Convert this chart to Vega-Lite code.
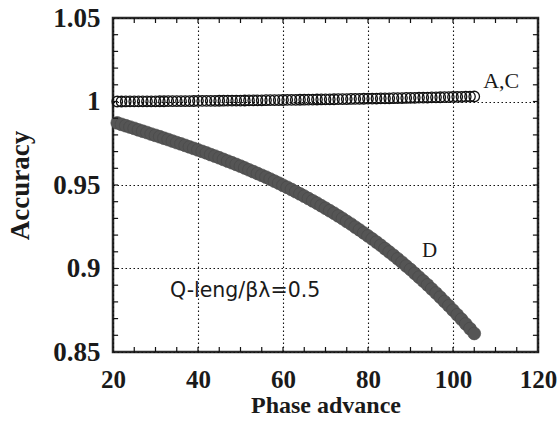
{
  "$schema": "https://vega.github.io/schema/vega-lite/v6.json",
  "width": 425,
  "height": 334,
  "autosize": {"type": "none"},
  "padding": {"left": 113, "top": 18, "right": 19, "bottom": 85},
  "background": "white",
  "config": {
    "view": {"stroke": "#2a2a2a", "strokeWidth": 2.5},
    "axis": {"labelColor": "#1a1a1a", "titleColor": "#1a1a1a"}
  },
  "datasets": {
    "xt": [{"v":25},{"v":30},{"v":35},{"v":40},{"v":45},{"v":50},{"v":55},{"v":60},{"v":65},{"v":70},{"v":75},{"v":80},{"v":85},{"v":90},{"v":95},{"v":100},{"v":105},{"v":110},{"v":115}],
    "yt": [{"v":0.86},{"v":0.87},{"v":0.88},{"v":0.89},{"v":0.9},{"v":0.91},{"v":0.92},{"v":0.93},{"v":0.94},{"v":0.95},{"v":0.96},{"v":0.97},{"v":0.98},{"v":0.99},{"v":1},{"v":1.01},{"v":1.02},{"v":1.03},{"v":1.04}],
    "ac": [
      {"x":21,"y":1.00000},{"x":22,"y":1.00001},{"x":23,"y":1.00002},{"x":24,"y":1.00004},{"x":25,"y":1.00005},
      {"x":26,"y":1.00007},{"x":27,"y":1.00008},{"x":28,"y":1.00010},{"x":29,"y":1.00011},{"x":30,"y":1.00013},
      {"x":31,"y":1.00015},{"x":32,"y":1.00016},{"x":33,"y":1.00018},{"x":34,"y":1.00020},{"x":35,"y":1.00022},
      {"x":36,"y":1.00024},{"x":37,"y":1.00026},{"x":38,"y":1.00028},{"x":39,"y":1.00031},{"x":40,"y":1.00033},
      {"x":41,"y":1.00035},{"x":42,"y":1.00037},{"x":43,"y":1.00040},{"x":44,"y":1.00042},{"x":45,"y":1.00045},
      {"x":46,"y":1.00047},{"x":47,"y":1.00050},{"x":48,"y":1.00053},{"x":49,"y":1.00056},{"x":50,"y":1.00058},
      {"x":51,"y":1.00061},{"x":52,"y":1.00064},{"x":53,"y":1.00067},{"x":54,"y":1.00070},{"x":55,"y":1.00073},
      {"x":56,"y":1.00077},{"x":57,"y":1.00080},{"x":58,"y":1.00083},{"x":59,"y":1.00086},{"x":60,"y":1.00090},
      {"x":61,"y":1.00093},{"x":62,"y":1.00097},{"x":63,"y":1.00100},{"x":64,"y":1.00104},{"x":65,"y":1.00107},
      {"x":66,"y":1.00111},{"x":67,"y":1.00115},{"x":68,"y":1.00119},{"x":69,"y":1.00122},{"x":70,"y":1.00126},
      {"x":71,"y":1.00130},{"x":72,"y":1.00135},{"x":73,"y":1.00139},{"x":74,"y":1.00143},{"x":75,"y":1.00147},
      {"x":76,"y":1.00152},{"x":77,"y":1.00156},{"x":78,"y":1.00160},{"x":79,"y":1.00164},{"x":80,"y":1.00169},
      {"x":81,"y":1.00173},{"x":82,"y":1.00178},{"x":83,"y":1.00183},{"x":84,"y":1.00187},{"x":85,"y":1.00192},
      {"x":86,"y":1.00197},{"x":87,"y":1.00202},{"x":88,"y":1.00207},{"x":89,"y":1.00212},{"x":90,"y":1.00217},
      {"x":91,"y":1.00222},{"x":92,"y":1.00228},{"x":93,"y":1.00233},{"x":94,"y":1.00238},{"x":95,"y":1.00243},
      {"x":96,"y":1.00249},{"x":97,"y":1.00254},{"x":98,"y":1.00260},{"x":99,"y":1.00266},{"x":100,"y":1.00271},
      {"x":101,"y":1.00277},{"x":102,"y":1.00283},{"x":103,"y":1.00289},{"x":104,"y":1.00294},{"x":105,"y":1.00300}
    ],
    "d": [
      {"x":21,"y":0.9872},{"x":22,"y":0.9863},{"x":23,"y":0.9855},{"x":24,"y":0.9847},{"x":25,"y":0.9839},
      {"x":26,"y":0.9830},{"x":27,"y":0.9822},{"x":28,"y":0.9814},{"x":29,"y":0.9805},{"x":30,"y":0.9797},
      {"x":31,"y":0.9789},{"x":32,"y":0.9780},{"x":33,"y":0.9772},{"x":34,"y":0.9763},{"x":35,"y":0.9754},
      {"x":36,"y":0.9746},{"x":37,"y":0.9737},{"x":38,"y":0.9728},{"x":39,"y":0.9719},{"x":40,"y":0.9710},
      {"x":41,"y":0.9701},{"x":42,"y":0.9692},{"x":43,"y":0.9682},{"x":44,"y":0.9673},{"x":45,"y":0.9663},
      {"x":46,"y":0.9653},{"x":47,"y":0.9643},{"x":48,"y":0.9633},{"x":49,"y":0.9623},{"x":50,"y":0.9613},
      {"x":51,"y":0.9602},{"x":52,"y":0.9591},{"x":53,"y":0.9580},{"x":54,"y":0.9569},{"x":55,"y":0.9558},
      {"x":56,"y":0.9547},{"x":57,"y":0.9535},{"x":58,"y":0.9523},{"x":59,"y":0.9511},{"x":60,"y":0.9498},
      {"x":61,"y":0.9486},{"x":62,"y":0.9473},{"x":63,"y":0.9460},{"x":64,"y":0.9447},{"x":65,"y":0.9433},
      {"x":66,"y":0.9419},{"x":67,"y":0.9405},{"x":68,"y":0.9391},{"x":69,"y":0.9376},{"x":70,"y":0.9361},
      {"x":71,"y":0.9346},{"x":72,"y":0.9331},{"x":73,"y":0.9315},{"x":74,"y":0.9299},{"x":75,"y":0.9282},
      {"x":76,"y":0.9266},{"x":77,"y":0.9248},{"x":78,"y":0.9231},{"x":79,"y":0.9213},{"x":80,"y":0.9195},
      {"x":81,"y":0.9177},{"x":82,"y":0.9158},{"x":83,"y":0.9139},{"x":84,"y":0.9119},{"x":85,"y":0.9099},
      {"x":86,"y":0.9079},{"x":87,"y":0.9058},{"x":88,"y":0.9037},{"x":89,"y":0.9015},{"x":90,"y":0.8994},
      {"x":91,"y":0.8971},{"x":92,"y":0.8948},{"x":93,"y":0.8925},{"x":94,"y":0.8902},{"x":95,"y":0.8877},
      {"x":96,"y":0.8853},{"x":97,"y":0.8828},{"x":98,"y":0.8802},{"x":99,"y":0.8777},{"x":100,"y":0.8750},
      {"x":101,"y":0.8723},{"x":102,"y":0.8696},{"x":103,"y":0.8668},{"x":104,"y":0.8640},{"x":105,"y":0.8611}
    ]
  },
  "layer": [
    {
      "data": {"name": "ac"},
      "mark": {"type": "point", "shape": "circle", "filled": false, "stroke": "#111111", "strokeWidth": 1.3, "size": 110, "opacity": 1},
      "encoding": {
        "x": {"field": "x", "type": "quantitative", "scale": {"domain": [20, 120], "nice": false, "zero": false},
          "axis": {"orient": "bottom", "values": [20, 40, 60, 80, 100, 120],
            "grid": true, "gridDash": [1.5, 2.5], "gridColor": "#111111", "gridWidth": 1.1, "gridOpacity": 1,
            "ticks": false, "domain": false, "labelFont": "Liberation Serif", "labelFontWeight": "bold", "labelFontSize": 25,
            "labelBaseline": "alphabetic", "labelPadding": 35, "labelFlush": false, "labelOverlap": false,
            "title": "Phase advance", "titleFont": "Liberation Serif", "titleFontWeight": "bold", "titleFontSize": 24, "titleBaseline": "alphabetic", "titleY": 60}},
        "y": {"field": "y", "type": "quantitative", "scale": {"domain": [0.85, 1.05], "nice": false, "zero": false},
          "axis": {"orient": "left", "values": [0.85, 0.9, 0.95, 1, 1.05], "format": "~g",
            "grid": true, "gridDash": [1.5, 2.5], "gridColor": "#111111", "gridWidth": 1.1, "gridOpacity": 1,
            "ticks": false, "domain": false, "labelFont": "Liberation Serif", "labelFontWeight": "bold", "labelFontSize": 27,
            "labelPadding": 13, "labelFlush": false, "labelOverlap": false,
            "title": "Accuracy", "titleFont": "Liberation Serif", "titleFontWeight": "bold", "titleFontSize": 27, "titleBaseline": "alphabetic", "titleAngle": -90, "titleAlign": "center", "titleX": -85, "titleY": 167}}
      }
    },
    {
      "data": {"name": "d"},
      "mark": {"type": "point", "shape": "circle", "filled": true, "fill": "#555555", "stroke": "#484848", "strokeWidth": 0.6, "size": 165, "opacity": 1},
      "encoding": {
        "x": {"field": "x", "type": "quantitative"},
        "y": {"field": "y", "type": "quantitative"}
      }
    },
    {
      "data": {"name": "xt"},
      "mark": {"type": "rule", "stroke": "#111111", "strokeWidth": 1.2},
      "encoding": {
        "x": {"field": "v", "type": "quantitative"},
        "y": {"datum": 0.85, "type": "quantitative"},
        "y2": {"datum": 0.853}
      }
    },
    {
      "data": {"name": "xt"},
      "mark": {"type": "rule", "stroke": "#111111", "strokeWidth": 1.2},
      "encoding": {
        "x": {"field": "v", "type": "quantitative"},
        "y": {"datum": 1.05, "type": "quantitative"},
        "y2": {"datum": 1.047}
      }
    },
    {
      "data": {"name": "yt"},
      "mark": {"type": "rule", "stroke": "#111111", "strokeWidth": 1.2},
      "encoding": {
        "y": {"field": "v", "type": "quantitative"},
        "x": {"datum": 20, "type": "quantitative"},
        "x2": {"datum": 21.2}
      }
    },
    {
      "data": {"name": "yt"},
      "mark": {"type": "rule", "stroke": "#111111", "strokeWidth": 1.2},
      "encoding": {
        "y": {"field": "v", "type": "quantitative"},
        "x": {"datum": 120, "type": "quantitative"},
        "x2": {"datum": 118.8}
      }
    },
    {
      "data": {"values": [{"x": 107.1, "y": 1.0081, "t": "A,C"}]},
      "mark": {"type": "text", "align": "left", "baseline": "alphabetic", "font": "Liberation Serif", "fontSize": 22, "color": "#1a1a1a"},
      "encoding": {
        "x": {"field": "x", "type": "quantitative"},
        "y": {"field": "y", "type": "quantitative"},
        "text": {"field": "t"}
      }
    },
    {
      "data": {"values": [{"x": 92.7, "y": 0.9069, "t": "D"}]},
      "mark": {"type": "text", "align": "left", "baseline": "alphabetic", "font": "Liberation Serif", "fontSize": 21, "color": "#1a1a1a"},
      "encoding": {
        "x": {"field": "x", "type": "quantitative"},
        "y": {"field": "y", "type": "quantitative"},
        "text": {"field": "t"}
      }
    },
    {
      "data": {"values": [{"x": 33.4, "y": 0.8829, "t": "Q-leng/βλ=0.5"}]},
      "mark": {"type": "text", "align": "left", "baseline": "alphabetic", "font": "DejaVu Sans", "fontSize": 20.5, "color": "#1a1a1a"},
      "encoding": {
        "x": {"field": "x", "type": "quantitative"},
        "y": {"field": "y", "type": "quantitative"},
        "text": {"field": "t"}
      }
    }
  ]
}
